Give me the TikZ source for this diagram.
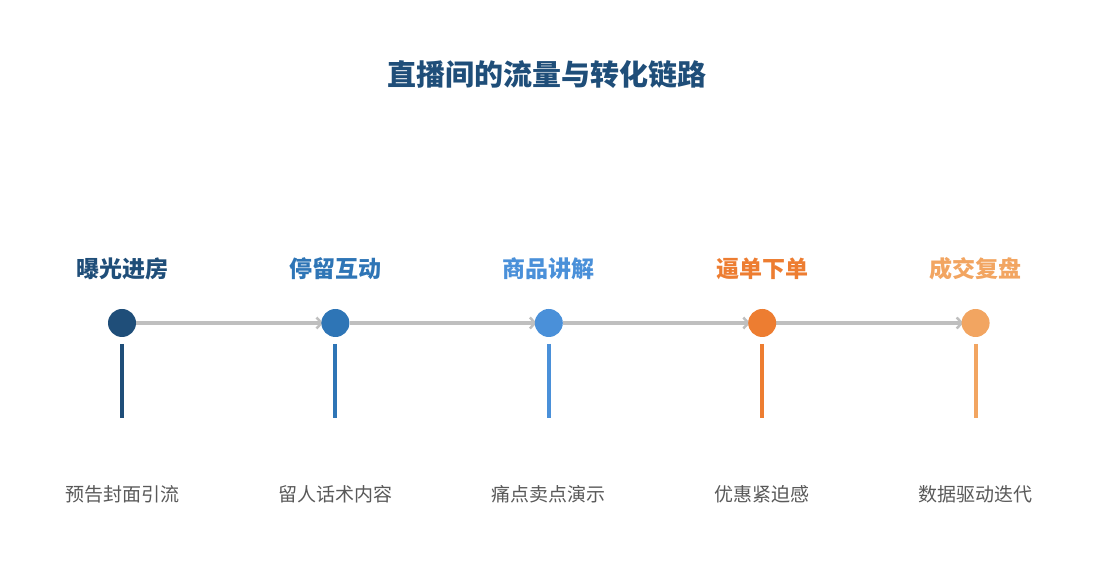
\documentclass[tikz,border=0pt]{standalone}
\usepackage{fontspec}
\newfontfamily\cjk{Noto Sans CJK SC}
\usetikzlibrary{positioning}
\usetikzlibrary{arrows.meta}
\usetikzlibrary{backgrounds}
\definecolor{stageA}{HTML}{1F4E79}
\definecolor{stageB}{HTML}{2E75B6}
\definecolor{stageC}{HTML}{4A90D9}
\definecolor{stageD}{HTML}{ED7D31}
\definecolor{stageE}{HTML}{F2A561}
\definecolor{flowgray}{HTML}{BFBFBF}
\definecolor{textgray}{HTML}{595959}
\tikzset{
        % Stage dots
        node_stage/.style={circle, fill=#1, draw=none, minimum size=28pt, inner sep=0pt},
        % Stage names above the dots
        node_name/.style={font=\cjk\bfseries\fontsize{23pt}{26pt}\selectfont, text=#1, inner sep=0pt},
        % Descriptions below the stems
        node_desc/.style={font=\cjk\fontsize{19pt}{23pt}\selectfont, text=textgray, inner sep=0pt},
        % Arrows between stages
        flow/.style={draw=flowgray, line width=3.5pt, -{Straight Barb[length=5pt, width=11pt, line width=2.5pt]}, shorten >=-2pt},
        % Vertical stems
        stem/.style={draw=#1, line width=4pt}
}

\begin{document}
\begin{tikzpicture}[x=1pt, y=1pt, node distance=185pt]
            \useasboundingbox (0,0) rectangle (1095,585);
            \node[font=\cjk\bfseries\fontsize{29pt}{33pt}\selectfont, text=stageA] (title) at (547,510) {直播间的流量与转化链路};
            % Dots
            \node[node_stage=stageA] (s1) at (122,262) {};
            \node[node_stage=stageB, right=of s1] (s2) {};
            \node[node_stage=stageC, right=of s2] (s3) {};
            \node[node_stage=stageD, right=of s3] (s4) {};
            \node[node_stage=stageE, right=of s4] (s5) {};
            % Names
            \node[node_name=stageA] (n1) at ([yshift=54pt]s1) {曝光进房};
            \node[node_name=stageB] (n2) at ([yshift=54pt]s2) {停留互动};
            \node[node_name=stageC] (n3) at ([yshift=54pt]s3) {商品讲解};
            \node[node_name=stageD] (n4) at ([yshift=54pt]s4) {逼单下单};
            \node[node_name=stageE] (n5) at ([yshift=54pt]s5) {成交复盘};
            % Descriptions
            \node[node_desc] (d1) at ([yshift=-171pt]s1) {预告封面引流};
            \node[node_desc] (d2) at ([yshift=-171pt]s2) {留人话术内容};
            \node[node_desc] (d3) at ([yshift=-171pt]s3) {痛点卖点演示};
            \node[node_desc] (d4) at ([yshift=-171pt]s4) {优惠紧迫感};
            \node[node_desc] (d5) at ([yshift=-171pt]s5) {数据驱动迭代};
            % Stems
            \draw[stem=stageA] ([yshift=-21pt]s1.center) -- ([yshift=-95pt]s1.center);
            \draw[stem=stageB] ([yshift=-21pt]s2.center) -- ([yshift=-95pt]s2.center);
            \draw[stem=stageC] ([yshift=-21pt]s3.center) -- ([yshift=-95pt]s3.center);
            \draw[stem=stageD] ([yshift=-21pt]s4.center) -- ([yshift=-95pt]s4.center);
            \draw[stem=stageE] ([yshift=-21pt]s5.center) -- ([yshift=-95pt]s5.center);
            % Arrows
            \begin{scope}[on background layer]
                \draw[flow] (s1) -- (s2);
                \draw[flow] (s2) -- (s3);
                \draw[flow] (s3) -- (s4);
                \draw[flow] (s4) -- (s5);
            \end{scope}
        \end{tikzpicture}
\end{document}
